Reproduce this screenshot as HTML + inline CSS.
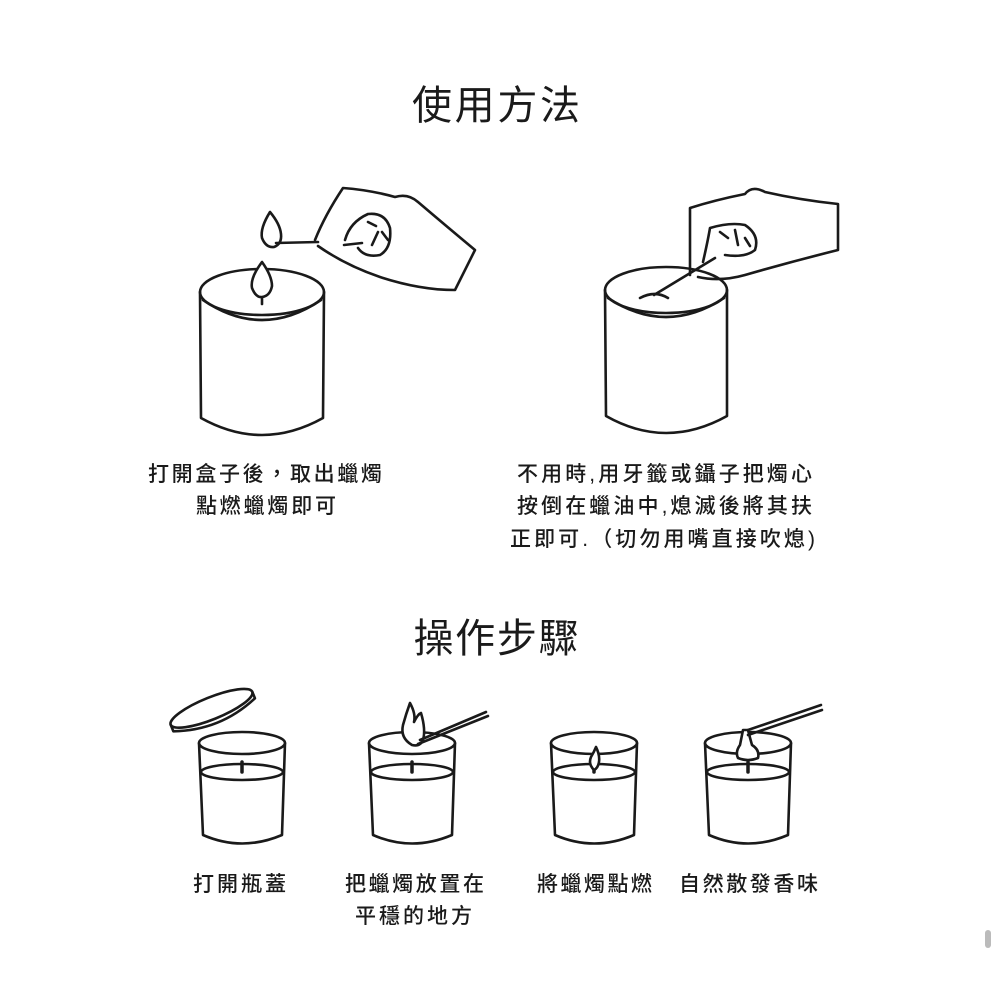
<!DOCTYPE html>
<html><head><meta charset="utf-8"><style>
html,body{margin:0;padding:0;background:#fff;}
svg{display:block}
text{font-family:"Liberation Sans","Noto Sans CJK TC",sans-serif;fill:#1a1a1a;}
.c{font-weight:500;}
</style></head><body>
<svg width="1000" height="1000" viewBox="0 0 1000 1000" xmlns="http://www.w3.org/2000/svg">
<g fill="none" stroke="#1a1a1a" stroke-width="2.6" stroke-linecap="round" stroke-linejoin="round">
<!-- big candle 1 -->
<ellipse cx="262" cy="292" rx="62" ry="23"/>
<path d="M203 300 Q262 340 321 300"/>
<path d="M200 292 L201 418 Q262 452 323 418 L324 292"/>
<path d="M262 292 L262 304"/>
<path d="M262 262 Q250 278 252 288 Q256 298 262 297 Q270 296 272 286 Q272 276 262 262 Z" fill="#fff"/>
<path d="M270 212 Q260 228 262 238 Q266 248 274 247 Q282 244 281 234 Q280 224 270 212 Z"/>
<path d="M276 243 L318 242"/>
<!-- hand 1 -->
<path d="M315 240 Q325 215 343 188 Q370 190 395 197 Q408 193 418 202 Q445 225 475 250 L455 290 Q420 290 380 277 Q345 265 318 246"/>
<path d="M344 245 L362 243 M345 240 Q350 222 368 214 Q385 212 390 228 Q392 248 380 255 Q365 258 358 248"/>
<path d="M368 222 L376 226 M378 232 L372 245 M382 232 L388 240"/>
<!-- big candle 2 -->
<ellipse cx="666" cy="290" rx="61" ry="23"/>
<path d="M608 298 Q666 336 724 298"/>
<path d="M605 290 L606 416 Q666 450 727 416 L727 290"/>
<path d="M640 298 Q655 290 668 298"/>
<path d="M654 295 L715 258"/>
<!-- hand 2 -->
<path d="M690 275 L690 208 Q715 200 745 194 Q752 185 765 192 Q800 200 838 204 L838 250 Q790 262 745 275 Q720 282 698 277"/>
<path d="M703 262 Q708 240 710 228 Q730 222 745 225 Q760 235 755 250 Q745 258 725 255"/>
<path d="M720 232 L728 238 M735 230 L738 245 M745 238 L750 246"/>
<!-- small candles -->
<g id="sc">
<ellipse cx="242" cy="743" rx="43" ry="11"/>
<path d="M199 743 L203 835 Q242 852 282 835 L285 743"/>
<ellipse cx="242" cy="772" rx="41" ry="8"/>
<path d="M242 762 L242 772" stroke-width="3.5"/>
</g>
<use href="#sc" x="170"/>
<use href="#sc" x="352"/>
<use href="#sc" x="506"/>
<!-- lid -->
<g transform="rotate(-22 213 712)">
<ellipse cx="213" cy="708" rx="44" ry="11"/>
<path d="M169 708 L169 715 Q213 732 257 715 L257 708"/>
</g>
<!-- step2 flame and match -->
<path d="M412 745 Q400 738 403 725 Q406 714 410 703 Q416 714 414 722 Q418 714 421 713 Q426 730 423 740 Q420 747 412 745 Z" fill="#fff"/>
<path d="M418 744 L488 716 M420 740 L486 712"/>
<!-- step3 flame -->
<path d="M594 770 Q588 764 591 757 Q594 752 596 747 Q600 755 599 762 Q598 768 594 770 Z" fill="#fff"/>
<!-- step4 snuffer -->
<path d="M743 730 Q741 740 740 745 Q735 752 738 758 Q748 762 758 758 Q760 750 752 745 Q750 738 748 730 Z" fill="#fff"/>
<path d="M748 730 L821 705 M748 735 L822 710"/>
</g>
<text x="496" y="119" font-size="40" text-anchor="middle" textLength="168">使用方法</text>
<text x="496" y="652" font-size="40" text-anchor="middle" textLength="165">操作步驟</text>
<g class="c">
<text x="148" y="481" font-size="21" textLength="234">打開盒子後，取出蠟燭</text>
<text x="196" y="513" font-size="21" textLength="140">點燃蠟燭即可</text>
<text x="517" y="481" font-size="21" textLength="295">不用時,用牙籤或鑷子把燭心</text>
<text x="517" y="513" font-size="21" textLength="295">按倒在蠟油中,熄滅後將其扶</text>
<text x="510" y="546" font-size="21" textLength="305">正即可.（切勿用嘴直接吹熄)</text>
<text x="193" y="891" font-size="21" textLength="93">打開瓶蓋</text>
<text x="345" y="891" font-size="21" textLength="139">把蠟燭放置在</text>
<text x="355" y="923" font-size="21" textLength="117">平穩的地方</text>
<text x="537" y="891" font-size="21" textLength="115">將蠟燭點燃</text>
<text x="679" y="891" font-size="21" textLength="139">自然散發香味</text>
</g>
<rect x="985" y="930" width="6" height="18" rx="3" fill="#bbb"/>
</svg>
</body></html>
